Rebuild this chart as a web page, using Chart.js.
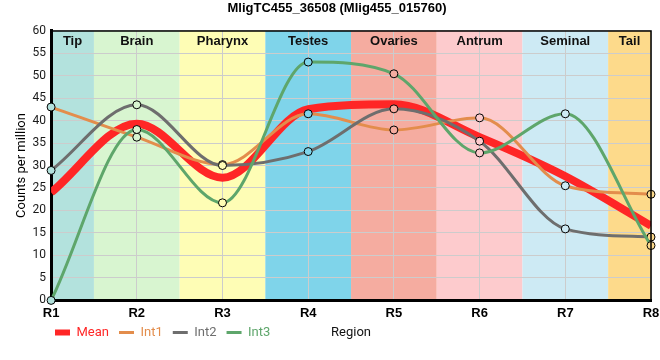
<!DOCTYPE html>
<html><head><meta charset="utf-8">
<script src="https://cdn.jsdelivr.net/npm/chart.js@4"></script>
<style>html,body{margin:0;padding:0;background:#fff}#wrap{width:660px;height:360px;position:relative}</style>
</head><body><div id="wrap"><canvas id="c"></canvas></div>
<script>
const regions = ['R1', 'R2', 'R3', 'R4', 'R5', 'R6', 'R7', 'R8'];
const tissues = ['Tip', 'Brain', 'Pharynx', 'Testes', 'Ovaries', 'Antrum', 'Seminal', 'Tail'];
const tissueColors = ['#b3e2dd', '#d8f5d0', '#fefdb5', '#7fd4ea', '#f5aca0', '#fdcbcd', '#cdeaf4', '#fdda8b'];
const meanValues = [24.0, 39.3, 27.3, 42.5, 43.6, 36.3, 27.6, 16.6];
const int1Values = [43.0, 36.3, 30.2, 41.5, 37.9, 40.6, 25.5, 23.6];
const int2Values = [28.9, 43.5, 30.0, 33.1, 42.6, 35.4, 15.9, 14.1];
const int3Values = [0.0, 38.0, 21.7, 53.0, 50.4, 32.8, 41.5, 12.2];
const yMin = 0, yMax = 60, yStep = 5;

const seriesColors = { Mean: '#ff2626', Int1: '#e38d4c', Int2: '#6e6e6e', Int3: '#5ea66b' };
const LEGEND_PAD = 10;
const LEGEND_SHIFT = 10;

const bandPlugin = {
  id: 'bands',
  beforeDraw(chart) {
    const { ctx, chartArea: a, scales: { x } } = chart;
    ctx.save();
    tissues.forEach((t, i) => {
      const l = Math.max(a.left, x.getPixelForValue(i - 0.5));
      const r = Math.min(a.right, x.getPixelForValue(i + 0.5));
      ctx.fillStyle = tissueColors[i];
      ctx.fillRect(l, a.top, r - l, a.bottom - a.top);
    });
    ctx.restore();
  },
  beforeDatasetsDraw(chart) {
    const { ctx, chartArea: a, scales: { x } } = chart;
    ctx.save();
    ctx.font = 'bold 13px "Liberation Sans", Arial, sans-serif';
    ctx.fillStyle = '#111';
    ctx.textAlign = 'center';
    ctx.textBaseline = 'middle';
    tissues.forEach((t, i) => {
      const l = Math.max(a.left, x.getPixelForValue(i - 0.5));
      const r = Math.min(a.right, x.getPixelForValue(i + 0.5));
      ctx.fillText(t, (l + r) / 2, a.top + 11);
    });
    ctx.restore();
  },
  afterLayout(chart) {
    const lg = chart.legend;
    if (lg) {
      lg.left = 45; lg.right = 660;
      lg.top -= LEGEND_SHIFT; lg.bottom -= LEGEND_SHIFT;
    }
  },
  afterDraw(chart) {
    const { ctx, chartArea: a } = chart;
    ctx.save();
    ctx.strokeStyle = '#000';
    ctx.lineWidth = 1.5;
    ctx.beginPath();
    ctx.moveTo(a.left, a.top + 0.5);
    ctx.lineTo(a.right, a.top + 0.5);
    ctx.lineTo(a.right, a.bottom);
    ctx.stroke();
    ctx.font = '13px Roboto, sans-serif';
    ctx.fillStyle = '#111';
    ctx.textAlign = 'center';
    ctx.textBaseline = 'middle';
    const lg = chart.legend;
    ctx.fillText('Region', (a.left + a.right) / 2, lg.top + LEGEND_PAD + 7);
    ctx.restore();
  }
};

const pointFill = ctx => tissueColors[ctx.dataIndex] || '#fff';

const chart = new Chart(document.getElementById('c'), {
  type: 'line',
  data: {
    labels: regions,
    datasets: [
      { label: 'Mean', data: meanValues, borderColor: seriesColors.Mean, backgroundColor: seriesColors.Mean,
        borderWidth: 8, pointRadius: 0, cubicInterpolationMode: 'monotone', order: 10, clip: 0 },
      { label: 'Int1', data: int1Values, borderColor: seriesColors.Int1, backgroundColor: seriesColors.Int1,
        borderWidth: 3, pointRadius: 4, pointBorderColor: '#000', pointBackgroundColor: pointFill, pointBorderWidth: 1,
        cubicInterpolationMode: 'monotone', order: 3, clip: false },
      { label: 'Int2', data: int2Values, borderColor: seriesColors.Int2, backgroundColor: seriesColors.Int2,
        borderWidth: 3, pointRadius: 4, pointBorderColor: '#000', pointBackgroundColor: pointFill, pointBorderWidth: 1,
        cubicInterpolationMode: 'monotone', order: 2, clip: false },
      { label: 'Int3', data: int3Values, borderColor: seriesColors.Int3, backgroundColor: seriesColors.Int3,
        borderWidth: 3, pointRadius: 4, pointBorderColor: '#000', pointBackgroundColor: pointFill, pointBorderWidth: 1,
        cubicInterpolationMode: 'monotone', order: 1, clip: false }
    ]
  },
  options: {
    responsive: true,
    maintainAspectRatio: false,
    animation: false,
    devicePixelRatio: 1,
    layout: { padding: { left: 14, right: 0, top: 0, bottom: 1 } },
    plugins: {
      title: { display: true, text: 'MligTC455_36508 (Mlig455_015760)', color: '#000',
        font: { family: '"Liberation Sans", Arial, sans-serif', size: 13, weight: 'bold' },
        padding: { top: 1, bottom: 14 } },
      legend: {
        position: 'bottom', align: 'start',
        labels: {
          usePointStyle: true, pointStyleWidth: 15, boxHeight: 6, padding: LEGEND_PAD,
          font: { family: 'Roboto, sans-serif', size: 13 },
          generateLabels(chart) {
            return chart.data.datasets.map((ds, i) => ({
              text: ds.label,
              fillStyle: ds.borderColor,
              strokeStyle: ds.borderColor,
              fontColor: ds.borderColor,
              lineWidth: i === 0 ? 0 : 3,
              pointStyle: i === 0 ? 'rect' : 'line',
              hidden: false,
              datasetIndex: i
            }));
          }
        }
      },
      tooltip: { enabled: false }
    },
    scales: {
      x: {
        offset: false,
        grid: { color: '#cccccc', drawTicks: false },
        border: { color: '#000', width: 3 },
        ticks: { color: '#000', padding: 5, font: { family: '"Liberation Sans", Arial, sans-serif', size: 13, weight: 'bold' } },
        afterFit(scale) { scale.paddingRight = 9; }
      },
      y: {
        min: yMin, max: yMax,
        grid: { color: '#cccccc', drawTicks: false },
        border: { color: '#000', width: 3 },
        ticks: { stepSize: yStep, color: '#1a1a1a', padding: 5, font: { family: 'Roboto, sans-serif', size: 12 } },
        title: { display: true, text: 'Counts per million', color: '#000', padding: { top: 0, bottom: -2 },
          font: { family: 'Roboto, sans-serif', size: 13 } }
      }
    }
  },
  plugins: [bandPlugin]
});
</script>
</body></html>
